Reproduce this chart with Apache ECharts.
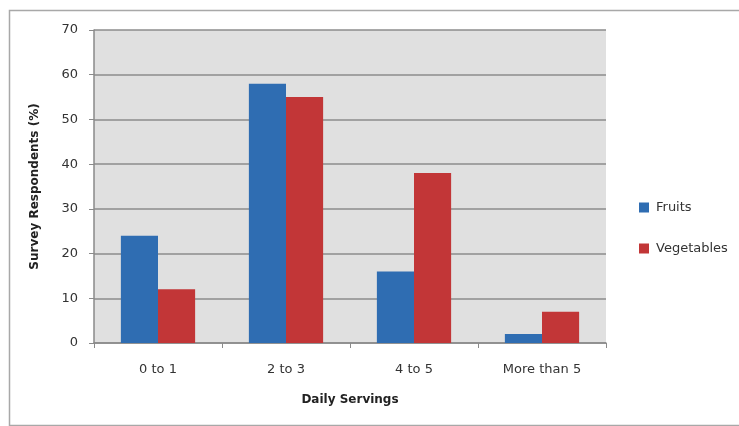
<!DOCTYPE html>
<html>
<head>
<meta charset="utf-8">
<script src="https://cdn.jsdelivr.net/npm/echarts@6/dist/echarts.min.js"></script>
<style>
  html, body { margin: 0; padding: 0; background: #ffffff; }
  #chart { width: 739px; height: 426px; }
</style>
</head>
<body>
<div id="chart"></div>
<script>
// Daily servings of fruits and vegetables reported by survey respondents
var categories = ['0 to 1', '2 to 3', '4 to 5', 'More than 5'];
var fruits = [24, 58, 16, 2];
var vegetables = [12, 55, 38, 7];
var yTicks = [0, 10, 20, 30, 40, 50, 60, 70];

var font = '"DejaVu Sans", Verdana, sans-serif';
var chart = echarts.init(document.getElementById('chart'));

chart.setOption({
  animation: false,
  backgroundColor: '#ffffff',
  textStyle: { fontFamily: font, color: '#333333' },
  graphic: [{
    type: 'rect',
    left: 7, top: 8,
    shape: { width: 740, height: 415 },
    style: { fill: 'none', stroke: '#a8a8a8', lineWidth: 1.5 },
    silent: true, z: -10
  }],
  grid: {
    left: 94, right: 133, top: 30, bottom: 83,
    show: true, backgroundColor: '#e0e0e0', borderWidth: 0
  },
  legend: {
    orient: 'vertical',
    left: 634, top: 196,
    itemWidth: 10, itemHeight: 10, itemGap: 28,
    icon: 'rect',
    textStyle: { fontFamily: font, fontSize: 13, color: '#333333', padding: [0, 0, 0, 2] },
    data: ['Fruits', 'Vegetables']
  },
  xAxis: {
    type: 'category',
    data: categories,
    name: 'Daily Servings',
    nameLocation: 'middle',
    nameGap: 51,
    nameTextStyle: { fontFamily: font, fontSize: 12, fontWeight: 'bold', color: '#222222' },
    axisLine: { lineStyle: { color: '#8a8a8a', width: 1.5 } },
    axisTick: { show: true, length: 5, lineStyle: { color: '#8a8a8a' } },
    axisLabel: { fontFamily: font, fontSize: 13, color: '#333333', margin: 20 }
  },
  yAxis: {
    type: 'value',
    min: yTicks[0], max: yTicks[yTicks.length - 1], interval: 10,
    name: 'Survey Respondents (%)',
    nameLocation: 'middle',
    nameGap: 53,
    nameRotate: 90,
    nameTextStyle: { fontFamily: font, fontSize: 12, fontWeight: 'bold', color: '#222222' },
    axisLine: { show: true, lineStyle: { color: '#8a8a8a', width: 1.5 } },
    axisTick: { show: true, length: 5, lineStyle: { color: '#8a8a8a' } },
    axisLabel: { fontFamily: font, fontSize: 13, color: '#333333', margin: 16 },
    splitLine: { lineStyle: { color: '#8c8c8c', width: 1.5 } }
  },
  series: [
    {
      name: 'Fruits', type: 'bar', data: fruits,
      barGap: '0%', barCategoryGap: '42%',
      itemStyle: { color: '#2f6db2' }
    },
    {
      name: 'Vegetables', type: 'bar', data: vegetables,
      barGap: '0%', barCategoryGap: '42%',
      itemStyle: { color: '#c23637' }
    }
  ]
});
</script>
</body>
</html>
